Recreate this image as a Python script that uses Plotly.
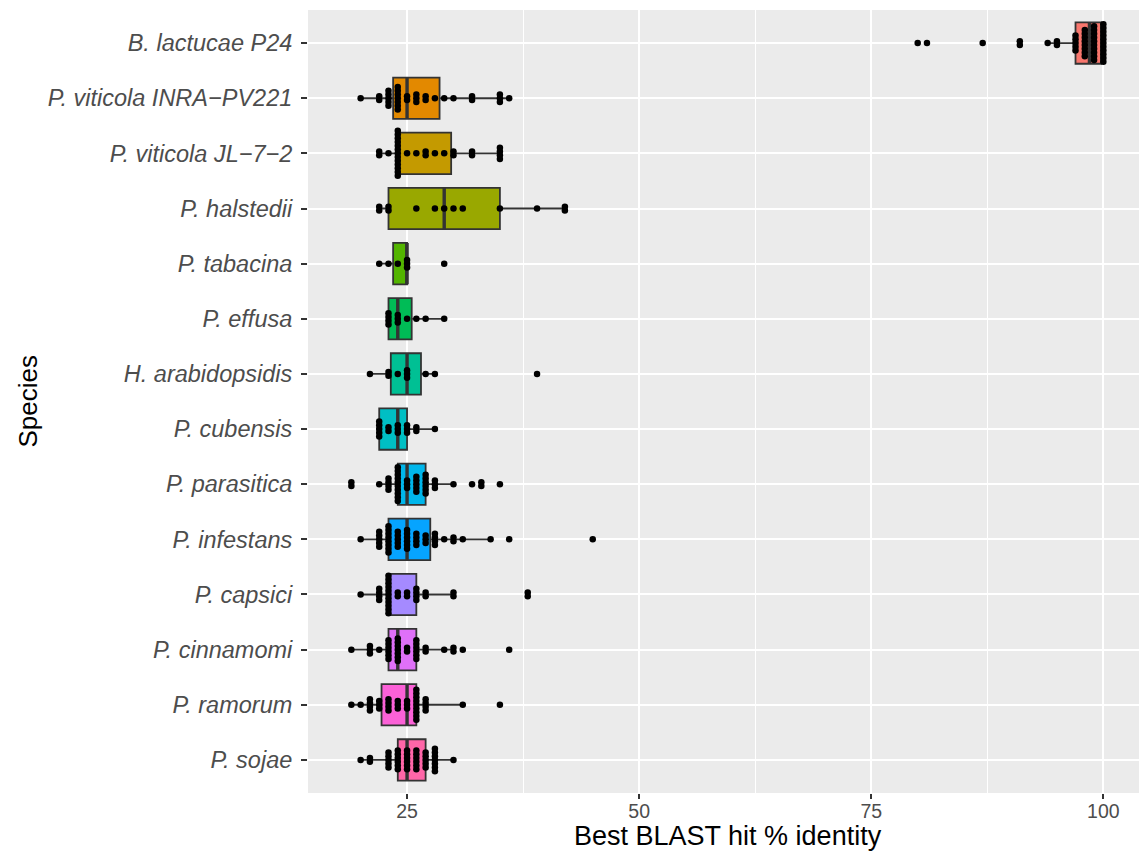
import math
import numpy as np
import plotly.graph_objects as go

# Species, top to bottom (factor order)
species = ["B. lactucae P24", "P. viticola INRA\u2212PV221", "P. viticola JL\u22127\u22122",
           "P. halstedii", "P. tabacina", "P. effusa", "H. arabidopsidis", "P. cubensis",
           "P. parasitica", "P. infestans", "P. capsici", "P. cinnamomi", "P. ramorum", "P. sojae"]

# Best BLAST hit % identity values (dot positions) and number of dots at each
lactucae_pct = [80, 81, 87, 91, 94, 95, 97, 98, 99, 100]
lactucae_n = [1, 1, 1, 2, 1, 2, 5, 8, 10, 11]
viticola_inra_pct = [20, 22, 23, 24, 25, 26, 27, 28, 29, 30, 32, 35, 36]
viticola_inra_n = [1, 2, 5, 7, 2, 3, 2, 1, 1, 1, 2, 3, 1]
viticola_jl_pct = [22, 23, 24, 25, 26, 27, 28, 29, 30, 32, 35]
viticola_jl_n = [2, 1, 13, 1, 1, 2, 1, 1, 2, 2, 4]
halstedii_pct = [22, 23, 26, 28, 29, 30, 31, 35, 39, 42]
halstedii_n = [2, 2, 1, 1, 1, 1, 1, 1, 1, 2]
tabacina_pct = [22, 23, 24, 25, 29]
tabacina_n = [1, 1, 1, 3, 1]
effusa_pct = [23, 24, 25, 26, 27, 29]
effusa_n = [4, 3, 1, 1, 1, 1]
arabidopsidis_pct = [21, 23, 24, 25, 27, 28, 39]
arabidopsidis_n = [1, 2, 1, 3, 1, 1, 1]
cubensis_pct = [22, 23, 24, 25, 26, 28]
cubensis_n = [5, 2, 3, 3, 2, 1]
parasitica_pct = [19, 22, 23, 24, 25, 26, 27, 28, 30, 32, 33, 35]
parasitica_n = [2, 1, 4, 10, 3, 5, 6, 3, 1, 1, 2, 1]
infestans_pct = [20, 22, 23, 24, 25, 26, 27, 28, 29, 30, 31, 34, 36, 45]
infestans_n = [1, 5, 8, 5, 6, 4, 3, 4, 1, 2, 1, 1, 1, 1]
capsici_pct = [20, 22, 23, 24, 25, 26, 27, 30, 38]
capsici_n = [1, 4, 11, 2, 2, 4, 2, 2, 2]
cinnamomi_pct = [19, 21, 22, 23, 24, 25, 26, 27, 29, 30, 31, 36]
cinnamomi_n = [1, 3, 1, 6, 7, 2, 6, 2, 1, 2, 1, 1]
ramorum_pct = [19, 20, 21, 22, 23, 24, 25, 26, 27, 31, 35]
ramorum_n = [1, 1, 4, 3, 4, 3, 3, 9, 4, 1, 1]
sojae_pct = [20, 21, 23, 24, 25, 26, 27, 28, 30]
sojae_n = [1, 2, 5, 6, 6, 6, 5, 7, 1]

pct_lists = [lactucae_pct, viticola_inra_pct, viticola_jl_pct, halstedii_pct, tabacina_pct,
             effusa_pct, arabidopsidis_pct, cubensis_pct, parasitica_pct, infestans_pct,
             capsici_pct, cinnamomi_pct, ramorum_pct, sojae_pct]
n_lists = [lactucae_n, viticola_inra_n, viticola_jl_n, halstedii_n, tabacina_n,
           effusa_n, arabidopsidis_n, cubensis_n, parasitica_n, infestans_n,
           capsici_n, cinnamomi_n, ramorum_n, sojae_n]

x_ticks = [25, 50, 75, 100]
x_title = "Best BLAST hit % identity"
y_title = "Species"


def hcl_hex(h, c=100.0, l=65.0):
    hr = math.radians(h)
    u, v = c * math.cos(hr), c * math.sin(hr)
    Xn, Yn, Zn = 95.047, 100.0, 108.883
    Y = Yn * ((l + 16) / 116) ** 3 if l > 8 else Yn * l / 903.3
    d = Xn + 15 * Yn + 3 * Zn
    un, vn = 4 * Xn / d, 9 * Yn / d
    up, vp = u / (13 * l) + un, v / (13 * l) + vn
    X = Y * 9 * up / (4 * vp)
    Z = Y * (12 - 3 * up - 20 * vp) / (4 * vp)
    X, Y, Z = X / 100, Y / 100, Z / 100
    r = 3.240479 * X - 1.537150 * Y - 0.498535 * Z
    g = -0.969256 * X + 1.875992 * Y + 0.041556 * Z
    b = 0.055648 * X - 0.204043 * Y + 1.057311 * Z

    def gam(t):
        t = 12.92 * t if t <= 0.0031308 else 1.055 * t ** (1 / 2.4) - 0.055
        return int(round(255 * min(1, max(0, t))))
    return "#%02X%02X%02X" % (gam(r), gam(g), gam(b))


nsp = len(species)
colors = [hcl_hex(15 + 360 * i / nsp) for i in range(nsp)]
box_w = 0.75

fig = go.Figure()
stack_step = 0.068
dot_x, dot_y = [], []
med_x, med_y = [], []
for i, (name, pcts, ns) in enumerate(zip(species, pct_lists, n_lists)):
    pos = nsp - 1 - i
    vals = np.repeat(np.array(pcts, dtype=float), ns)
    q1, med, q3 = np.percentile(vals, [25, 50, 75])
    iqr = q3 - q1
    lo = vals[vals >= q1 - 1.5 * iqr].min()
    hi = vals[vals <= q3 + 1.5 * iqr].max()
    fig.add_trace(go.Box(
        y=[pos], q1=[q1], median=[med], q3=[q3], lowerfence=[lo], upperfence=[hi],
        orientation="h", width=box_w, whiskerwidth=0, boxpoints=False,
        fillcolor=colors[i], line=dict(color="#333333", width=1.8),
        showlegend=False, hoverinfo="skip"))
    med_x += [med, med, None]
    med_y += [pos - box_w / 2, pos + box_w / 2, None]
    for p, n in zip(pcts, ns):
        for k in range(n):
            dot_x.append(p)
            dot_y.append(pos + (k - (n - 1) / 2) * stack_step)

# thicker median line (ggplot-style)
fig.add_trace(go.Scatter(x=med_x, y=med_y, mode="lines",
                         line=dict(color="#333333", width=3.4),
                         showlegend=False, hoverinfo="skip"))

fig.add_trace(go.Scatter(x=dot_x, y=dot_y, mode="markers",
                         marker=dict(color="black", size=6.5, line=dict(width=0)),
                         showlegend=False, hoverinfo="skip"))

font_family = "Liberation Sans, Arial, sans-serif"
fig.update_layout(
    width=1139, height=843,
    margin=dict(l=300, r=0, t=2, b=58, autoexpand=False),
    paper_bgcolor="white", plot_bgcolor="#EBEBEB",
    font=dict(family=font_family),
    xaxis=dict(range=[14.33, 104.7], tickvals=x_ticks, ticktext=[str(t) for t in x_ticks],
               showgrid=True, gridcolor="white", gridwidth=2, zeroline=False,
               ticks="outside", ticklen=5, tickwidth=1.5, tickcolor="#333333",
               ticklabelstandoff=-4,
               tickfont=dict(size=19.5, color="#4D4D4D"), automargin=False,
               minor=dict(tickvals=[12.5, 37.5, 62.5, 87.5], showgrid=True,
                          gridcolor="white", gridwidth=1, ticks=""),
               showline=False),
    yaxis=dict(range=[-0.6, nsp - 0.4], tickvals=list(range(nsp)),
               ticktext=["<i>%s</i>" % s for s in species[::-1]],
               showgrid=True, gridcolor="white", gridwidth=2, zeroline=False,
               ticks="outside", ticklen=6, tickwidth=1.5, tickcolor="#333333",
               ticklabelstandoff=4,
               tickfont=dict(size=23.5, color="#4D4D4D"), automargin=False,
               showline=False),
    annotations=[
        dict(text=x_title, xref="paper", yref="paper", x=0.5, y=0, xanchor="center",
             yanchor="top", yshift=-26, showarrow=False,
             font=dict(size=27, color="black", family=font_family)),
        dict(text=y_title, xref="paper", yref="paper", x=0, y=0.5, xanchor="center",
             yanchor="middle", xshift=-281, textangle=-90, showarrow=False,
             font=dict(size=26, color="black", family=font_family)),
    ],
)

fig.write_html("out.html")
